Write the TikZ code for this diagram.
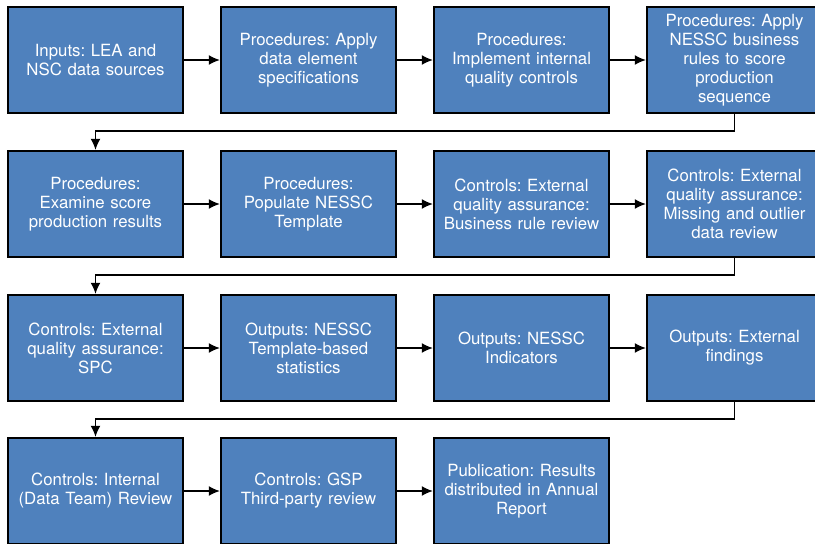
\documentclass[tikz,border=0pt]{standalone}
\usepackage{fontspec}
\setmainfont{TeX Gyre Heros}
\usetikzlibrary{arrows.meta}
\definecolor{stageblue}{RGB}{79,129,189}
\frenchspacing
\begin{document}
\begin{tikzpicture}[x=1pt, y=-1pt, >={Latex[length=11pt,width=10pt]},
  stage/.style={draw=black, line width=2.5pt, fill=stageblue, text=white,
    minimum width=175pt, minimum height=106pt, text width=170pt, inner sep=0pt,
    align=center, font=\fontsize{16.8}{19}\selectfont},
  flow/.style={->, line width=1.2pt}]
  \useasboundingbox (0,0) rectangle (815,544);

  \node [stage] (A1) at (95.5,60)  {Inputs: LEA and\\NSC data sources};
  \node [stage] (A2) at (308.5,60) {Procedures: Apply\\data element\\specifications};
  \node [stage] (A3) at (521.5,60) {Procedures:\\Implement internal\\quality controls};
  \node [stage] (A4) at (734.5,60) {Procedures: Apply\\NESSC business\\rules to score\\production\\sequence};

  \node [stage] (B1) at (95.5,204)  {Procedures:\\Examine score\\production results};
  \node [stage] (B2) at (308.5,204) {Procedures:\\Populate NESSC\\Template};
  \node [stage] (B3) at (521.5,204) {Controls: External\\quality assurance:\\Business rule review};
  \node [stage] (B4) at (734.5,204) {Controls: External\\quality assurance:\\Missing and outlier\\data review};

  \node [stage] (C1) at (95.5,348)  {Controls: External\\quality assurance:\\SPC};
  \node [stage] (C2) at (308.5,348) {Outputs: NESSC\\Template-based\\statistics};
  \node [stage] (C3) at (521.5,348) {Outputs: NESSC\\Indicators};
  \node [stage] (C4) at (734.5,348) {Outputs: External\\findings\\[8pt]};

  \node [stage] (D1) at (95.5,491)  {Controls: Internal\\(Data Team) Review};
  \node [stage] (D2) at (308.5,491) {Controls: GSP\\Third-party review};
  \node [stage] (D3) at (521.5,491) {Publication: Results\\distributed in Annual\\Report};

  \coordinate (AB) at (734.5,131);
  \coordinate (BC) at (734.5,275);
  \coordinate (CD) at (734.5,419);

  \draw [flow] (A1) -- (A2);
  \draw [flow] (A2) -- (A3);
  \draw [flow] (A3) -- (A4);
  \draw [flow] (A4.south) -- (AB) -| (B1.north);

  \draw [flow] (B1) -- (B2);
  \draw [flow] (B2) -- (B3);
  \draw [flow] (B3) -- (B4);
  \draw [flow] (B4.south) -- (BC) -| (C1.north);

  \draw [flow] (C1) -- (C2);
  \draw [flow] (C2) -- (C3);
  \draw [flow] (C3) -- (C4);
  \draw [flow] (C4.south) -- (CD) -| (D1.north);

  \draw [flow] (D1) -- (D2);
  \draw [flow] (D2) -- (D3);
\end{tikzpicture}
\end{document}
